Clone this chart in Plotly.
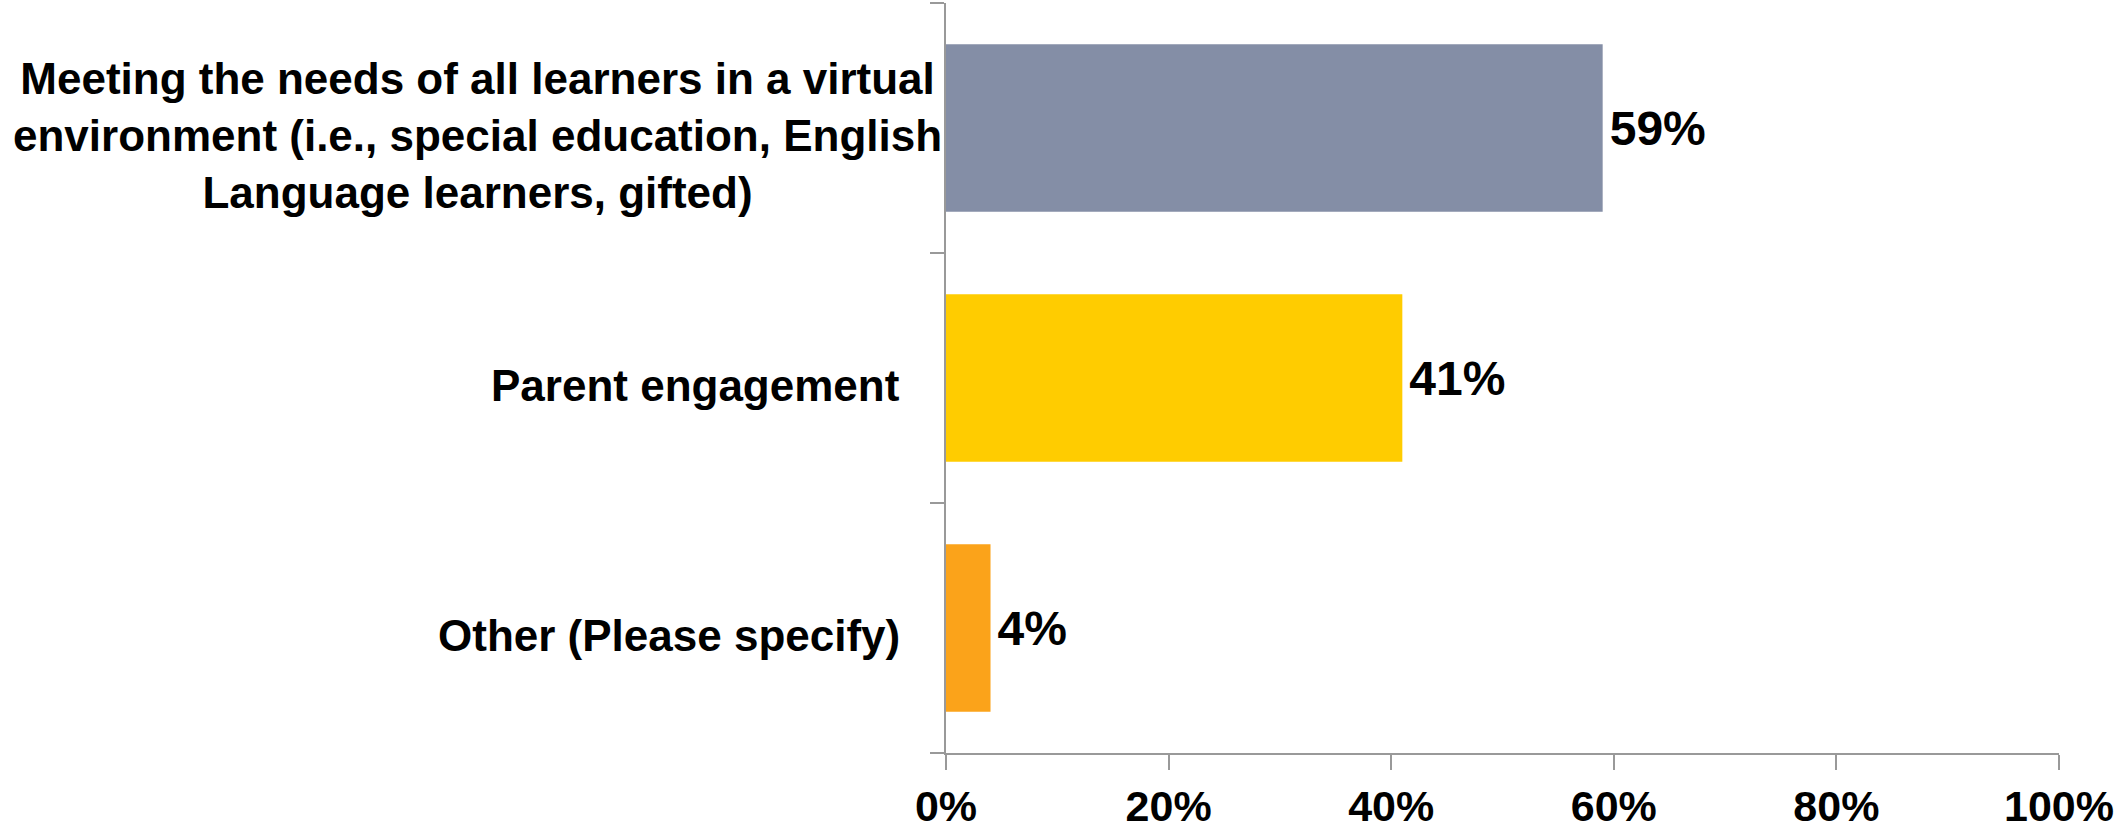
import plotly.graph_objects as go

# Survey responses (share of respondents)
categories = [
    "Meeting the needs of all learners in a virtual<br>environment (i.e., special education, English<br>Language learners, gifted)",
    "Parent engagement",
    "Other (Please specify)",
]
values = [0.59, 0.41, 0.04]
bar_colors = ["#848EA6", "#FFCC00", "#FBA31A"]
x_ticks = [0, 0.2, 0.4, 0.6, 0.8, 1.0]
x_tick_labels = ["0%", "20%", "40%", "60%", "80%", "100%"]

FONT = "Liberation Sans, Arial, sans-serif"
AXIS_GREY = "#999999"

fig = go.Figure()

fig.add_trace(go.Bar(
    x=values,
    y=categories,
    orientation="h",
    marker=dict(color=bar_colors, line=dict(width=0)),
    # hair space gives the little gap between bar end and label
    text=[f"<b>\u200a{v:.0%}</b>" for v in values],
    textposition="outside",
    textfont=dict(family=FONT, size=48, color="black"),
    cliponaxis=False,
))

# category labels as annotations so multi-line text is centred like the original
label_shift = [-2, -44, -44]
for cat, shift in zip(categories, label_shift):
    fig.add_annotation(
        xref="paper", yref="y",
        x=0, y=cat,
        text=f"<b>{cat}</b>",
        showarrow=False,
        xanchor="right", yanchor="middle",
        align="center",
        xshift=shift,
        yshift=-7,
        font=dict(family=FONT, size=44, color="black"),
    )

fig.update_layout(
    width=2123, height=832,
    margin=dict(l=946, r=64, t=3, b=79),
    plot_bgcolor="white",
    paper_bgcolor="white",
    bargap=0.33,
    showlegend=False,
    xaxis=dict(
        range=[0, 1.0],
        tickvals=x_ticks,
        ticktext=[f"<b>{t}</b>" for t in x_tick_labels],
        tickfont=dict(family=FONT, size=43, color="black"),
        showgrid=False,
        zeroline=False,
        showline=True,
        linecolor=AXIS_GREY,
        linewidth=1.5,
        ticks="outside",
        ticklen=15,
        tickcolor=AXIS_GREY,
        tickwidth=1.5,
        ticklabelstandoff=0,
        automargin=False,
    ),
    yaxis=dict(
        categoryorder="array",
        categoryarray=categories[::-1],
        showticklabels=False,
        showgrid=False,
        zeroline=False,
        showline=True,
        linecolor=AXIS_GREY,
        linewidth=1.5,
        ticks="outside",
        ticklen=14,
        tickcolor=AXIS_GREY,
        tickwidth=1.5,
        tickson="boundaries",
        automargin=False,
    ),
)

# drop the default page margin so the figure fills the window exactly
fig.write_html(
    "out.html",
    config={"displayModeBar": False},
    post_script="document.body.style.margin='0';",
)
